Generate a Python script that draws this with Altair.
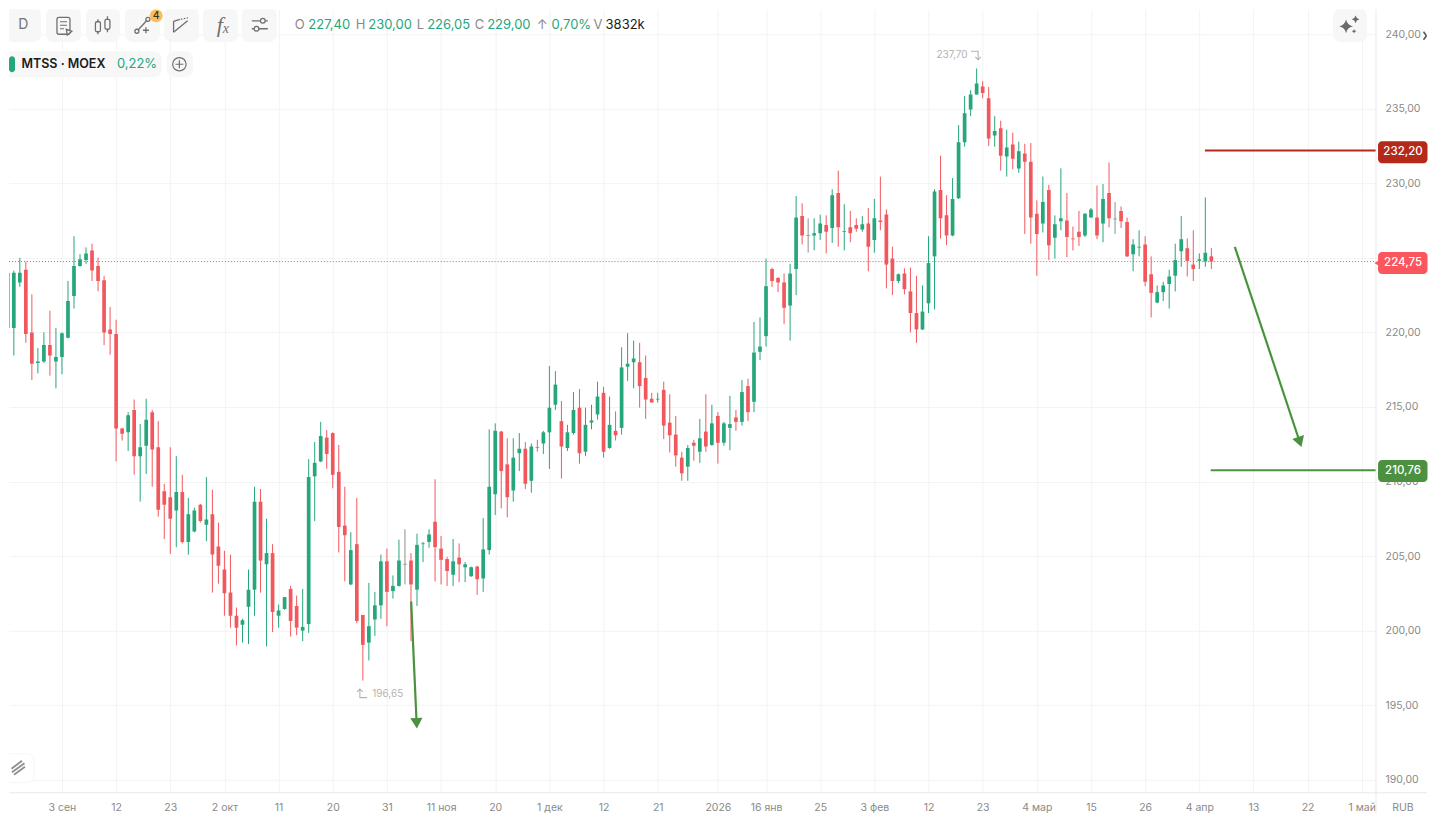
import altair as alt
import pandas as pd

opens = [225.10,224.0,220.3,223.35,224.2,220.0,217.95,218.05,219.15,218.05,
218.35,219.65,222.45,224.45,224.85,225.5,224.45,223.5,220.2,219.9,
213.55,213.3,214.8,211.7,212.4,214.65,212.3,209.35,208.95,208.05,
209.3,205.95,206.65,208.45,207.1,207.8,205.65,204.1,202.55,201.0,
200.4,201.6,202.75,208.65,204.45,205.2,201.0,201.45,202.8,201.65,
200.0,200.45,210.35,211.35,212.95,213.25,210.65,207.05,203.1,205.8,
201.05,199.2,200.75,201.7,204.65,202.65,203.0,204.45,204.7,202.75,
205.8,205.95,207.3,205.5,204.8,203.75,204.9,204.25,203.65,204.3,
203.5,205.4,209.15,213.35,211.15,209.4,211.9,212.2,210.05,212.3,
212.55,213.3,215.15,214.05,212.25,213.25,214.95,212.0,213.95,214.5,
215.95,212.25,213.4,213.6,217.7,218.0,218.0,216.95,215.55,215.5,
216.15,213.95,213.15,211.6,211.0,212.6,212.0,213.35,212.45,214.4,
212.6,213.6,214.3,214.0,216.4,215.35,218.7,219.75,224.25,223.65,
223.35,221.8,224.25,227.8,226.5,226.5,226.65,227.2,227.0,229.35,
226.75,227.05,227.2,226.9,227.3,226.2,227.5,227.9,224.95,223.45,
223.95,222.75,221.3,220.2,221.95,225.1,229.55,227.85,226.5,229.0,
232.75,234.95,235.95,236.5,235.7,233.2,233.7,231.8,232.6,231.0,
232.0,231.45,227.95,227.3,229.55,226.35,227.45,227.5,226.3,226.75,
226.5,227.7,227.7,227.3,229.35,227.6,228.15,227.4,225.25,225.7,
225.9,223.9,222.0,222.7,223.25,223.8,225.45,225.65,224.55,224.8,
224.75,225.1]
highs = [225.45,224.75,224.15,225.0,224.75,222.55,218.95,220.0,221.45,220.3,
220.0,223.45,226.45,225.25,225.7,225.95,225.0,223.8,221.7,220.85,
213.6,214.65,215.5,213.85,215.55,214.8,214.05,209.85,212.3,211.7,
210.45,208.9,208.25,208.5,210.3,209.45,207.25,205.35,205.1,201.55,
200.8,204.1,209.65,209.5,207.5,205.8,201.75,202.25,203.0,202.35,
202.8,211.5,212.65,214.0,213.45,213.3,212.45,209.65,206.6,208.9,
201.05,203.2,202.6,205.1,205.5,203.7,206.1,206.8,205.2,206.5,
205.95,206.8,210.15,206.35,204.95,206.15,205.85,204.6,204.3,204.35,
207.55,213.5,213.9,213.4,212.9,212.9,213.25,212.65,212.55,212.8,
213.4,217.75,217.4,215.4,213.8,216.0,216.2,214.95,215.15,216.7,
216.35,215.7,214.7,219.0,219.95,219.45,219.3,218.45,215.95,215.95,
216.7,215.85,214.4,212.0,212.45,212.8,214.2,215.85,215.15,214.65,
214.0,215.75,214.8,216.8,216.9,220.7,221.0,224.95,224.35,223.7,
223.95,224.6,229.15,228.65,227.65,227.65,227.9,227.85,229.6,230.85,
228.6,228.15,227.65,227.8,228.35,228.95,230.45,228.25,225.75,223.95,
224.3,224.35,223.8,223.15,226.45,229.6,231.85,229.2,230.35,233.9,
235.85,236.25,237.7,236.85,236.45,234.5,234.2,233.6,233.4,232.8,
232.65,232.7,228.85,230.45,229.9,227.85,231.0,229.35,227.1,228.15,
228.0,228.35,229.85,229.95,231.4,228.75,228.45,227.7,226.25,226.85,
226.45,225.1,223.15,223.4,224.2,225.95,227.8,226.3,226.85,225.3,
229.05,225.65]
lows = [223.85,217.65,218.45,223.05,219.3,216.8,217.25,217.95,217.1,216.25,
217.2,219.6,221.6,224.4,224.6,223.45,222.75,219.15,218.5,211.35,
212.75,212.05,210.45,208.65,210.5,209.65,207.65,206.15,205.15,205.6,
205.85,205.1,206.6,207.25,206.0,202.55,203.15,201.0,200.2,199.0,
199.2,199.1,201.0,202.55,198.95,199.9,200.2,201.4,199.6,199.7,
199.3,199.85,207.35,211.3,210.85,209.55,205.25,203.3,203.05,200.5,
196.65,198.0,199.65,200.8,200.3,202.15,202.95,203.1,199.3,201.65,
204.6,205.55,203.3,203.1,203.0,203.0,203.25,203.25,203.6,202.4,
202.6,205.1,207.75,208.2,207.6,208.65,210.7,209.5,209.25,212.0,
211.85,210.85,214.8,210.2,212.05,213.15,211.2,211.7,213.5,214.15,
211.6,212.2,212.75,213.15,216.75,216.25,214.95,214.2,215.3,215.3,
212.85,211.95,211.0,210.05,210.05,211.4,211.25,212.0,212.4,211.2,
212.4,212.1,213.4,213.75,214.05,214.65,218.15,219.05,223.05,222.7,
220.55,219.45,222.5,225.9,225.35,225.5,226.2,225.3,226.0,225.75,
225.5,226.05,226.75,226.75,224.1,225.35,226.85,222.95,222.5,223.3,
222.55,220.0,219.3,220.15,221.3,221.55,226.3,225.85,226.45,228.95,
232.45,234.5,235.95,235.7,232.5,232.45,230.85,230.45,230.95,230.7,
226.6,225.95,223.8,226.7,224.85,224.95,226.85,225.05,225.5,225.8,
226.4,227.7,226.25,226.05,227.05,226.6,227.0,225.05,224.1,225.1,
223.1,221.0,221.95,222.1,221.6,222.75,224.4,223.75,223.45,224.25,
224.4,224.25]
closes = [224.40,220.3,224.0,224.0,219.9,217.9,218.05,219.15,218.45,218.35,
219.95,222.1,224.45,224.9,225.3,224.15,223.45,220.0,219.9,213.55,
213.2,214.45,211.7,212.3,214.15,212.15,208.1,208.45,207.5,209.3,
205.95,207.8,208.05,207.35,207.45,205.1,204.35,202.5,201.0,200.2,
200.7,202.75,208.65,204.7,205.2,201.25,201.35,202.25,200.65,200.2,
200.25,210.3,211.25,213.05,211.85,210.45,206.95,206.4,205.4,200.65,
199.05,200.3,201.7,204.65,202.6,203.0,204.7,204.45,203.1,205.75,
205.85,206.45,205.6,204.75,204.0,204.65,204.45,204.45,204.25,203.45,
205.45,209.65,213.4,210.7,208.95,211.6,212.2,209.85,212.35,212.25,
213.3,214.95,216.5,212.35,213.3,214.8,211.9,213.8,214.1,215.7,
212.0,213.8,213.1,217.65,217.9,218.25,216.4,215.5,215.3,215.55,
213.75,213.1,211.75,210.55,212.25,212.4,212.9,212.35,213.9,212.6,
213.9,213.85,214.0,216.0,214.65,218.65,219.05,223.1,223.45,223.35,
221.65,223.95,227.7,226.5,226.5,226.65,227.3,226.75,229.2,227.05,
226.8,226.65,226.95,227.25,225.75,227.65,227.4,224.55,223.45,223.9,
222.9,221.3,220.2,221.4,224.65,229.45,227.65,226.5,228.95,232.75,
234.7,235.95,236.7,236.05,233.0,233.5,231.85,232.4,231.65,232.15,
231.45,227.7,226.6,228.75,225.85,227.25,227.65,226.4,226.25,226.4,
227.95,228.25,226.5,228.95,227.65,227.6,227.45,225.1,225.9,225.75,
223.4,222.65,222.7,223.15,223.75,224.85,226.25,224.8,224.25,224.9,
225.35,224.75]

price_ticks = [190, 195, 200, 205, 210, 215, 220, 225, 230, 235, 240]
tick_index = [10,19,28,37,46,55,64,73,82,91,100,109,119,127,136,145,154,163,172,181,190,199,208,217,226]
tick_text = ["3 сен","12","23","2 окт","11","20","31","11 ноя","20","1 дек","12","21","2026",
             "16 янв","25","3 фев","12","23","4 мар","15","26","4 апр","13","22","1 май"]
last_price = 224.75
level_high = 232.20
level_low = 210.76

GREEN = "#25a67b"
RED = "#f0585e"
GREY = "#8a8a8a"
ARROW = "#4b9140"
X_DOM = [1.2, 228.37]
Y_DOM = [189.13, 241.67]
xs = alt.Scale(domain=X_DOM, nice=False, zero=False)
ys = alt.Scale(domain=Y_DOM, nice=False, zero=False)
FONT = "Inter"

n = len(opens)
assert n == len(highs) == len(lows) == len(closes) == 202
df = pd.DataFrame({"i": list(range(n)), "o": opens, "h": highs, "l": lows, "c": closes})
df["dir"] = ["up" if c > o else ("down" if c < o else "flat") for o, c in zip(opens, closes)]
color = alt.Color("dir:N", scale=alt.Scale(domain=["up", "down", "flat"], range=[GREEN, RED, "#8f8f8f"]), legend=None)

label_expr = ("[" + ",".join("'%s'" % s for s in tick_text) + "][indexof(["
              + ",".join(str(i) for i in tick_index) + "],datum.value)]")
axis_x = alt.Axis(values=tick_index, labelExpr=label_expr, title=None, grid=True, gridColor="#f3f3f4",
                  gridWidth=1, domain=False, ticks=False, labelFont=FONT, labelFontSize=10.5,
                  labelColor=GREY, labelPadding=10, labelOverlap=False, labelFlush=False, labelBound=False)
axis_y = alt.Axis(values=price_ticks, orient="right", title=None, grid=True, gridColor="#f3f3f4",
                  gridWidth=1, domain=False, ticks=False, labelFont=FONT, labelFontSize=10.5,
                  labelColor=GREY, labelPadding=9, labelAlign="left",
                  labelExpr="datum.value == 225 ? '' : replace(format(datum.value,'.2f'),'.',',')",
                  labelOverlap=False, labelBound=False)


def X(f, **kw):
    return alt.X(f, type="quantitative", scale=xs, axis=axis_x, **kw)


def Y(f, **kw):
    return alt.Y(f, type="quantitative", scale=ys, axis=axis_y, **kw)


one = pd.DataFrame({"a": [0]})


def v(p):
    return alt.value(p - 8)


def seg(x1, y1, x2, y2, col="#6f6f6f", w=1.4, dash=None, clip=True):
    args = dict(color=col, strokeWidth=w, clip=clip)
    if dash:
        args["strokeDash"] = dash
    return alt.Chart(one).mark_rule(**args).encode(x=v(x1), y=v(y1), x2=v(x2), y2=v(y2))


def box(x1, y1, x2, y2, fill="#f7f7f8", r=8, stroke=None, w=1, clip=True):
    args = dict(fill=fill, cornerRadius=r, clip=clip)
    if stroke:
        args.update(stroke=stroke, strokeWidth=w)
    return alt.Chart(one).mark_rect(**args).encode(x=v(x1), y=v(y1), x2=v(x2), y2=v(y2))


def dot(x, y, size, fill=None, stroke="#6f6f6f", w=1.3, shape="circle", angle=0):
    args = dict(shape=shape, size=size, strokeWidth=w, opacity=1, clip=True, angle=angle)
    if fill:
        args.update(fill=fill, filled=True)
    else:
        args.update(filled=False, stroke=stroke)
    return alt.Chart(one).mark_point(**args).encode(x=v(x), y=v(y))


def label(x, y, t, col=GREY, size=13, align="left", weight=400, font=FONT, style=None, clip=True):
    args = dict(text=t, color=col, fontSize=size, align=align, baseline="middle",
                fontWeight=weight, font=font, clip=clip)
    if style:
        args["fontStyle"] = style
    return alt.Chart(one).mark_text(**args).encode(x=v(x), y=v(y))


# ---- candles -------------------------------------------------------------
base = alt.Chart(df)
wicks = base.mark_rule(strokeWidth=1, clip=True).encode(x=X("i"), y=Y("h"), y2=alt.Y2("l"), color=color)
bodies = base.transform_filter("datum.dir != 'flat'").mark_rule(strokeWidth=3.7, clip=True).encode(
    x=X("i"), y=Y("o"), y2=alt.Y2("c"), color=color)
flats = base.transform_filter("datum.dir == 'flat'").mark_tick(size=4, thickness=1, orient="horizontal", clip=True).encode(
    x=X("i"), y=Y("o"), color=color)

# ---- price lines ---------------------------------------------------------
last_line = alt.Chart(pd.DataFrame({"p": [last_price]})).mark_rule(
    color="#ef4f56", strokeWidth=1, strokeDash=[1, 2], clip=True).encode(y=Y("p"), x=alt.value(0), x2=alt.value(1368))
hi_line = alt.Chart(pd.DataFrame({"a": [199.93], "b": [X_DOM[1]], "p": [level_high]})).mark_rule(
    color="#b5291b", strokeWidth=2).encode(x=X("a"), x2=alt.X2("b"), y=Y("p"))
lo_line = alt.Chart(pd.DataFrame({"a": [200.9], "b": [X_DOM[1]], "p": [level_low]})).mark_rule(
    color=ARROW, strokeWidth=2).encode(x=X("a"), x2=alt.X2("b"), y=Y("p"))

# ---- arrows --------------------------------------------------------------
arrow_a = alt.Chart(pd.DataFrame({"i": [204.9, 215.7], "p": [225.74, 212.65]})).mark_line(
    color=ARROW, strokeWidth=2.2, clip=True).encode(x=X("i"), y=Y("p"))
head_a = alt.Chart(pd.DataFrame({"i": [215.7], "p": [212.65]})).mark_point(
    shape="triangle-down", filled=True, fill=ARROW, size=151, angle=341.7, opacity=1, clip=True).encode(x=X("i"), y=Y("p"))
arrow_b = alt.Chart(pd.DataFrame({"i": [68.03, 68.94], "p": [201.95, 193.79]})).mark_line(
    color=ARROW, strokeWidth=2.2, clip=True).encode(x=X("i"), y=Y("p"))
head_b = alt.Chart(pd.DataFrame({"i": [68.94], "p": [193.79]})).mark_point(
    shape="triangle-down", filled=True, fill=ARROW, size=151, angle=357.4, opacity=1, clip=True).encode(x=X("i"), y=Y("p"))


# ---- extremes ------------------------------------------------------------
def note(i, p, t, align):
    return alt.Chart(pd.DataFrame({"i": [i], "p": [p]})).mark_text(
        text=t, color="#b3b3b3", fontSize=10, align=align, baseline="middle", font=FONT, clip=True
    ).encode(x=X("i"), y=Y("p"))


def hook(i, p, path):
    return alt.Chart(pd.DataFrame({"i": [i], "p": [p]})).mark_point(
        shape=path, size=90, filled=False, stroke="#b3b3b3", strokeWidth=1.1, opacity=1, clip=True
    ).encode(x=X("i"), y=Y("p"))


extremes = [
    note(160.5, 238.6, "237,70", "right"),
    hook(161.85, 238.6, "M-1,-0.8 L0.5,-0.8 L0.5,1 M-0.1,0.4 L0.5,1 L1.1,0.4"),
    note(61.56, 195.76, "196,65", "left"),
    hook(59.9, 195.76, "M-0.5,-1 L-0.5,0.8 L1,0.8 M-1.1,-0.4 L-0.5,-1 L0.1,-0.4"),
]

# ---- axis lines ----------------------------------------------------------
frame = [
    seg(1376, 8, 1376, 813, "#e9e9ea", 1, clip=False),
    seg(8, 792, 1427, 792, "#e9e9ea", 1, clip=False),
    label(1403, 807, "RUB", GREY, 10.5, "center", clip=False),
]


# ---- price badges --------------------------------------------------------
def badge(y1, y2, fill, t):
    return [box(1378, y1, 1427.5, y2, fill=fill, r=4, clip=False),
            label(1403, (y1 + y2) / 2, t, "#ffffff", 11.5, "center", 500, clip=False)]


badges = (badge(140, 162, "#b5291b", "232,20")
          + badge(251, 273, "#f9575d", "224,75")
          + badge(459, 481, ARROW, "210,76")
          + [alt.Chart(one).mark_point(shape="triangle-left", filled=True, fill="#f9575d", size=40, opacity=1).encode(x=v(1377), y=v(262))])

# ---- toolbar -------------------------------------------------------------
toolbar = []
for a, b in [(5, 40), (45, 80), (85, 119), (124, 159), (163, 198), (202, 237), (241, 276)]:
    toolbar.append(box(a, 6, b, 41))
ic = "#6f6f6f"
toolbar += [label(22.3, 24, "D", "#757575", 14, "center")]
# report icon
toolbar += [box(56, 16, 69, 33, fill="#f7f7f8", r=2, stroke=ic, w=1.3),
            seg(59, 20.5, 66, 20.5, ic, 1.2), seg(59, 24, 66, 24, ic, 1.2), seg(59, 27.5, 63, 27.5, ic, 1.2),
            dot(67, 30, 34, fill="#f7f7f8", shape="triangle-up", angle=320),
            dot(67, 30, 34, stroke=ic, shape="triangle-up", angle=320)]
# candles icon
toolbar += [seg(97, 18, 97, 33, ic, 1.3), box(94.5, 20.5, 99.5, 30.5, fill="#f7f7f8", r=1.5, stroke=ic, w=1.3),
            seg(106.5, 15, 106.5, 31, ic, 1.3), box(104, 18, 109, 28, fill="#f7f7f8", r=1.5, stroke=ic, w=1.3)]
# line tool
toolbar += [seg(136, 30, 147, 18, ic, 1.3), dot(136, 30, 16, fill="#f7f7f8"), dot(136, 30, 16),
            dot(147, 18, 16, fill="#f7f7f8"), dot(147, 18, 16),
            seg(142, 29, 148, 29, ic, 1.3), seg(145, 26, 145, 32, ic, 1.3),
            dot(155.3, 14.5, 169, fill="#fbbd5b"),
            label(155.3, 14.8, "4", "#333333", 10.5, "center", 500)]
# shape tool
toolbar += [seg(172.7, 20, 172.7, 31, ic, 1.3), seg(172.7, 31, 186.7, 19.5, ic, 1.3), seg(172.7, 20, 179, 18, ic, 1.3),
            seg(180, 18, 187, 16.5, ic, 1.3, dash=[1.5, 1.5])]
# fx
toolbar += [label(219, 24, "f", ic, 22, "center", font="Liberation Serif", style="italic"),
            label(225, 28, "x", ic, 14, "center", font="Liberation Serif", style="italic")]
# sliders
toolbar += [seg(251, 19.5, 267, 19.5, ic, 1.3), dot(262, 19.5, 22, fill="#f7f7f8"), dot(262, 19.5, 22),
            seg(251, 27.5, 267, 27.5, ic, 1.3), dot(255.7, 27.5, 22, fill="#f7f7f8"), dot(255.7, 27.5, 22)]

# ---- OHLC legend ---------------------------------------------------------
ohlc_items = [(294, "O", GREY), (307.5, "227,40", GREEN), (355, "H", GREY), (367.5, "230,00", GREEN),
              (416, "L", GREY), (426.5, "226,05", GREEN), (474, "C", GREY), (486.5, "229,00", GREEN),
              (536, "↑", GREY), (551, "0,70%", GREEN), (593, "V", GREY), (605, "3832k", "#1c1c1c")]
ohlc = [label(x, 23.5, t, c, 13) for x, t, c in ohlc_items]

# ---- ticker chip ---------------------------------------------------------
chip = [box(-4, 50, 161, 76),
        box(8, 55, 14, 71, fill=GREEN, r=3),
        label(20.5, 63, "MTSS  ·  MOEX", "#1c1c1c", 12.5, weight=600),
        label(116, 63, "0,22%", GREEN, 13),
        box(166, 50, 192, 76),
        dot(178.5, 63, 180, stroke="#6f6f6f", w=1.2),
        seg(174.5, 63, 182.5, 63, ic, 1.2), seg(178.5, 59, 178.5, 67, ic, 1.2)]

# ---- right-hand controls -------------------------------------------------
STAR = "M0,-1 Q0.18,-0.18 1,0 Q0.18,0.18 0,1 Q-0.18,0.18 -1,0 Q-0.18,-0.18 0,-1 Z"
right = [box(1333, 7, 1367, 41),
         dot(1346, 25, 190, fill="#6a6a6a", shape=STAR),
         dot(1355.5, 18, 60, fill="#6a6a6a", shape=STAR),
         dot(1354, 30, 20, fill="#6a6a6a", shape=STAR),
         seg(1423.5, 30.5, 1426.5, 34.5, "#555555", 1.5, clip=False),
         seg(1426.5, 34.5, 1423.5, 38.5, "#555555", 1.5, clip=False)]

# ---- bottom-left control -------------------------------------------------
corner = [box(4, 753, 33, 782, fill="#ffffff", r=7, stroke="#f5f5f5", w=1),
          seg(10.5, 768, 21, 760, "#8e8e94", 1.8), seg(11, 771.5, 23.5, 762.5, "#8e8e94", 1.8),
          seg(13, 774, 24, 766, "#8e8e94", 1.8)]

layers = ([last_line, wicks, bodies, flats, hi_line, lo_line, arrow_a, head_a, arrow_b, head_b]
          + extremes + frame + toolbar + ohlc + chip + right + corner + badges)

chart = alt.layer(*layers).properties(
    width=1368, height=784, padding=0,
    autosize=alt.AutoSizeParams(type="pad", contains="content"),
    background="#ffffff",
).configure_view(stroke=None)

chart.save("out.html", embed_options={"renderer": "svg", "actions": False})
